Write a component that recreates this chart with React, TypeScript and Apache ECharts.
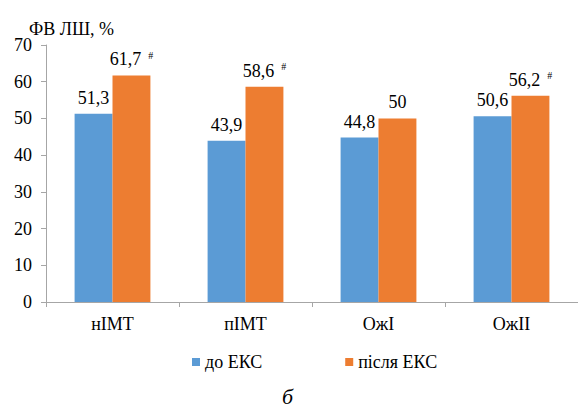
import React, { useEffect, useRef } from "react";
import * as echarts from "echarts";

const categories = ["нІМТ", "пІМТ", "ОжІ", "ОжІІ"];
const beforeValues = [51.3, 43.9, 44.8, 50.6];
const afterValues = [61.7, 58.6, 50, 56.2];
const afterMarks = ["#", "#", "", "#"];
const seriesNames = ["до ЕКС", "після ЕКС"];
const yTicks = [0, 10, 20, 30, 40, 50, 60, 70];

const FONT = "Liberation Serif, Times New Roman, serif";
const fmt = (v: number) => String(v).replace(".", ",");

export default function App() {
  const ref = useRef<HTMLDivElement>(null);
  useEffect(() => {
    document.body.style.margin = "0";
    const chart = echarts.init(ref.current!, null, { renderer: "svg" });
    chart.setOption({
      animation: false,
      backgroundColor: "#ffffff",
      textStyle: { fontFamily: FONT },
      title: {
        text: "ФВ ЛШ, %",
        left: 24,
        top: 15,
        textStyle: { fontFamily: FONT, fontSize: 18, fontWeight: "normal", color: "#000" },
      },
      legend: {
        top: 348,
        left: 187,
        itemWidth: 8,
        itemHeight: 8,
        itemGap: 83,
        icon: "rect",
        textStyle: { fontFamily: FONT, fontSize: 18, color: "#000" },
        data: seriesNames,
      },
      graphic: [
        {
          type: "text",
          left: 282,
          top: 385,
          style: { text: "б", fontFamily: FONT, fontStyle: "italic", fontSize: 22, fill: "#000" },
        },
      ],
      grid: { left: 46, right: -8, top: 45, bottom: 111, containLabel: false },
      xAxis: {
        type: "category",
        data: categories,
        axisLine: { lineStyle: { color: "#a6a6a6" } },
        axisTick: { show: true, length: 5, lineStyle: { color: "#a6a6a6" } },
        axisLabel: { fontFamily: FONT, fontSize: 18, color: "#000", margin: 13 },
      },
      yAxis: {
        type: "value",
        min: yTicks[0],
        max: yTicks[yTicks.length - 1],
        interval: 10,
        axisLine: { show: true, lineStyle: { color: "#a6a6a6" } },
        axisTick: { show: true, length: 5, lineStyle: { color: "#a6a6a6" } },
        splitLine: { show: false },
        axisLabel: { fontFamily: FONT, fontSize: 18, color: "#000", margin: 14 },
      },
      series: [
        {
          name: seriesNames[0],
          type: "bar",
          data: beforeValues,
          barGap: "0%",
          barCategoryGap: "43%",
          itemStyle: { color: "#5B9BD5" },
          label: {
            show: true,
            position: "top",
            distance: 7,
            formatter: (p: any) => fmt(p.value),
            fontFamily: FONT,
            fontSize: 18,
            color: "#000",
          },
        },
        {
          name: seriesNames[1],
          type: "bar",
          data: afterValues,
          itemStyle: { color: "#ED7D31" },
          label: {
            show: true,
            position: "top",
            distance: 7,
            formatter: (p: any) => {
              const m = afterMarks[p.dataIndex];
              return m ? `{v|${fmt(p.value)}}{s|${m}}` : `{v|${fmt(p.value)}}`;
            },
            rich: {
              v: { fontFamily: FONT, fontSize: 18, color: "#000" },
              s: { fontFamily: FONT, fontSize: 10, color: "#000", verticalAlign: "top", padding: [0, 0, 8, 7] },
            },
          },
        },
      ],
    });
    return () => chart.dispose();
  }, []);
  return <div ref={ref} style={{ width: 578, height: 413 }} />;
}
